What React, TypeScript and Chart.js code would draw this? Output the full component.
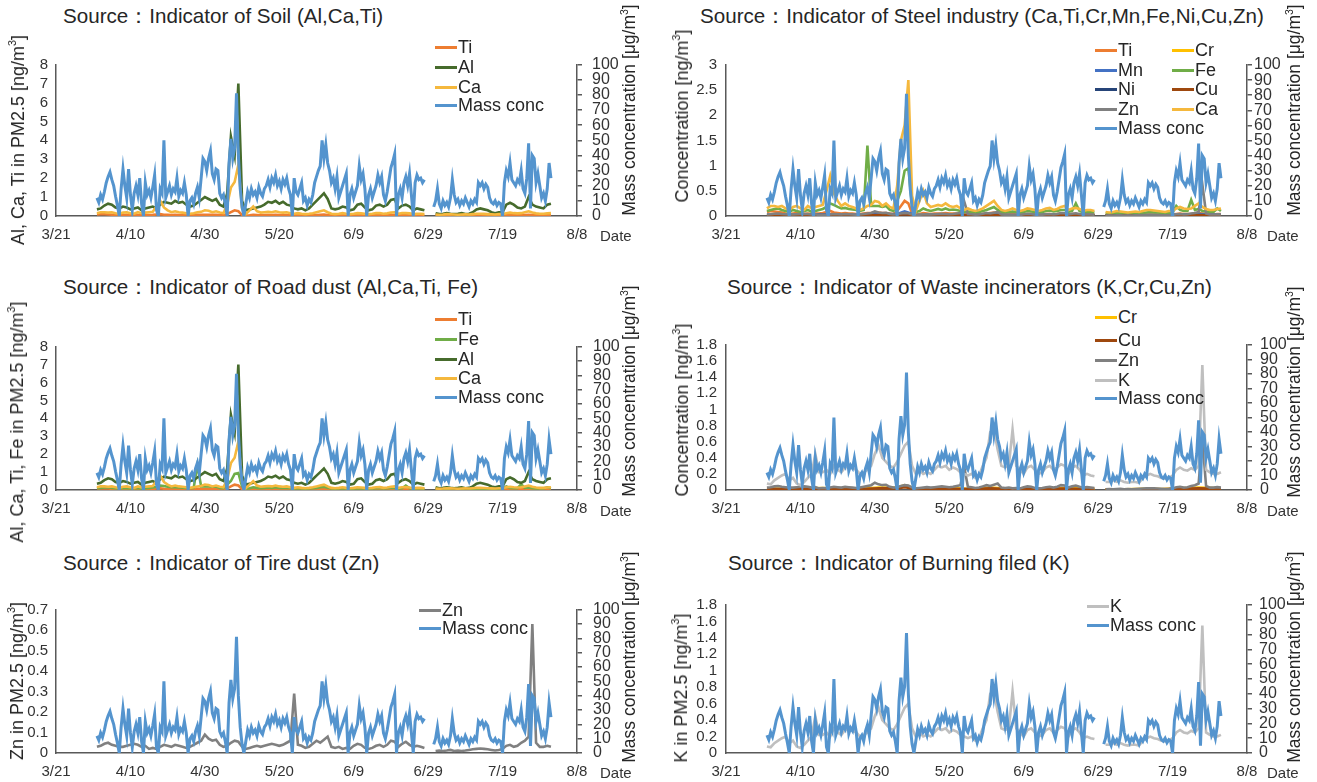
import React, { useEffect, useRef } from "react";
import { Chart, registerables } from "chart.js";
Chart.register(...registerables);

// ---------- data ----------
const xTickDays = [80, 100, 120, 140, 160, 180, 200, 220];
const xTickLabels = ["3/21", "4/10", "4/30", "5/20", "6/9", "6/29", "7/19", "8/8"];

// PM2.5 mass concentration [µg/m3], every 12 h from 4/1 (day 91)
const massStartDay = 91;
const massStepDays = 0.5;
const massConc: (number | null)[] = [
  12, 9, 14, 11, 16, 22, 26, 29, 24, 20,
  13, 7, 0, 18, 31, 20, 12, 31, 14, 4,
  15, 20, 14, 25, 8, 0, 22, 14, 17, 12,
  19, 27, 4, 0, 18, 15, 50, 12, 16, 20,
  14, 18, 16, 25, 13, 17, 15, 22, 14, 0,
  10, 12, 8, 15, 19, 12, 25, 38, 36, 30,
  38, 43, 28, 24, 31, 30, 15, 12, 14, 8,
  0, 35, 51, 38, 45, 81, 40, 18, 6, 0,
  8, 16, 12, 18, 14, 16, 12, 19, 15, 13,
  18, 20, 24, 19, 25, 22, 27, 20, 23, 18,
  24, 21, 25, 18, 14, 0, 25, 16, 14, 18,
  22, 10, 12, 7, 11, 9, 14, 22, 26, 30,
  33, 50, 38, 47, 35, 30, 22, 25, 18, 26,
  12, 16, 20, 24, 28, 0, 14, 18, 12, 16,
  20, 33, 24, 28, 18, 0, 14, 18, 12, 16,
  20, 27, 22, 26, 14, 10, 16, 24, 32, 36,
  41, 0, 14, 18, 12, 22, 26, 20, 28, 14,
  0, 22, 27, 24, 25, 22, 24, null, null, null,
  null, 6, 10, 18, 8, 5, 10, 7, 9, 6,
  12, 24, 14, 9, 11, 7, 10, 8, 12, 9,
  6, 10, 8, 11, 9, 22, 20, 22, 18, 21,
  19, 12, 9, 8, 10, 7, 9, 8, 0, 22,
  30, 26, 35, 24, 22, 20, 24, 22, 30, 18,
  15, 25, 48, 5, 40, 38, 22, 28, 20, 12,
  15, 10, 18, 35, 25,
];

// daily element concentrations [ng/m3] from 4/1 (day 91) to 8/1 (day 213)
const elemStartDay = 91;
const Al: (number | null)[] = [
  0.35, 0.4, 0.55, 0.65, 0.6, 0.45, 0.4, 0.5, 0.45, 0.35,
  0.4, 0.45, 0.3, 0.4, 0.45, 0.5, 0.4, 0.6, 0.75, 0.7,
  0.65, 0.8, 0.7, 0.75, 0.6, 0.5, 0.55, 0.7, 0.85, 1.0,
  0.9, 0.8, 0.9, 0.6, 0.5, 1.2, 4.2, 3.2, 7.0, 0.8,
  0.3, 0.35, 0.4, 0.45, 0.5, 0.6, 0.75, 0.7, 0.8, 0.65,
  0.75, 0.6, 0.55, 0.4, 0.35, 0.4, 0.3, 0.4, 0.6, 0.8,
  1.0, 1.2, 0.9, 0.4, 0.35, 0.4, 0.5, 0.45, 0.3, 0.35,
  0.6, 0.65, 0.45, 0.3, 0.35, 0.55, 0.6, 0.5, 0.6, 0.85,
  0.9, 0.4, 0.55, 0.6, 0.5, 0.3, 0.4, 0.35, 0.3, null,
  null, 0.15, 0.1, 0.12, 0.15, 0.12, 0.1, 0.12, 0.15, 0.1,
  0.12, 0.2, 0.35, 0.4, 0.35, 0.3, 0.2, 0.15, 0.2, 0.2,
  0.6, 0.7, 0.6, 0.45, 0.4, 0.5, 1.0, 0.6, 0.5, 0.45,
  0.4, 0.6, 0.65,
];
const Ca: (number | null)[] = [
  0.15, 0.2, 0.2, 0.18, 0.2, 0.15, 0.12, 0.18, 0.2, 0.15,
  0.12, 0.2, 0.15, 0.18, 0.2, 0.22, 0.5, 0.8, 0.45, 0.3,
  0.2, 0.25, 0.2, 0.18, 0.15, 0.12, 0.15, 0.2, 0.22, 0.3,
  0.28, 0.2, 0.25, 0.18, 0.15, 0.6, 1.5, 1.8, 2.7, 0.4,
  0.1, 0.3, 0.5, 0.25, 0.18, 0.2, 0.22, 0.2, 0.25, 0.2,
  0.18, 0.2, 0.15, 0.12, 0.15, 0.12, 0.1, 0.12, 0.15, 0.2,
  0.25, 0.3, 0.2, 0.12, 0.1, 0.12, 0.15, 0.12, 0.1, 0.12,
  0.15, 0.14, 0.12, 0.1, 0.12, 0.15, 0.16, 0.12, 0.14, 0.18,
  0.2, 0.12, 0.15, 0.16, 0.14, 0.1, 0.12, 0.12, 0.1, null,
  null, 0.08, 0.07, 0.08, 0.1, 0.09, 0.08, 0.07, 0.08, 0.09,
  0.08, 0.1, 0.12, 0.12, 0.11, 0.1, 0.09, 0.08, 0.1, 0.1,
  0.15, 0.18, 0.15, 0.14, 0.15, 0.2, 0.25, 0.18, 0.14, 0.12,
  0.12, 0.14, 0.15,
];
const Ti: (number | null)[] = [
  0.08, 0.1, 0.09, 0.08, 0.07, 0.05, 0.04, 0.05, 0.06, 0.05,
  0.04, 0.05, 0.04, 0.05, 0.05, 0.06, 0.08, 0.1, 0.07, 0.06,
  0.05, 0.06, 0.05, 0.05, 0.04, 0.04, 0.05, 0.06, 0.06, 0.07,
  0.07, 0.06, 0.06, 0.05, 0.04, 0.1, 0.2, 0.3, 0.25, 0.05,
  0.03, 0.04, 0.06, 0.05, 0.04, 0.05, 0.05, 0.05, 0.06, 0.05,
  0.05, 0.05, 0.04, 0.04, 0.04, 0.03, 0.03, 0.04, 0.04, 0.05,
  0.06, 0.07, 0.05, 0.03, 0.03, 0.03, 0.04, 0.03, 0.03, 0.03,
  0.04, 0.04, 0.03, 0.03, 0.03, 0.04, 0.04, 0.03, 0.04, 0.05,
  0.05, 0.03, 0.04, 0.04, 0.03, 0.03, 0.03, 0.03, 0.03, null,
  null, 0.02, 0.02, 0.02, 0.02, 0.02, 0.02, 0.02, 0.02, 0.02,
  0.02, 0.03, 0.03, 0.03, 0.03, 0.03, 0.02, 0.02, 0.02, 0.03,
  0.04, 0.05, 0.04, 0.04, 0.04, 0.05, 0.06, 0.05, 0.04, 0.04,
  0.03, 0.04, 0.04,
];
const Fe: (number | null)[] = [
  0.1, 0.12, 0.14, 0.15, 0.12, 0.1, 0.08, 0.12, 0.1, 0.08,
  0.1, 0.12, 0.08, 0.1, 0.12, 0.14, 0.18, 0.25, 0.22, 0.18,
  0.15, 0.16, 0.14, 0.13, 0.12, 0.1, 0.12, 1.4, 0.2, 0.2,
  0.2, 0.18, 0.2, 0.12, 0.1, 0.3, 0.5, 0.9, 0.95, 0.2,
  0.08, 0.1, 0.15, 0.12, 0.1, 0.12, 0.14, 0.12, 0.15, 0.12,
  0.13, 0.12, 0.1, 0.08, 0.09, 0.08, 0.07, 0.08, 0.1, 0.12,
  0.15, 0.18, 0.12, 0.08, 0.07, 0.08, 0.09, 0.08, 0.07, 0.08,
  0.1, 0.09, 0.08, 0.07, 0.08, 0.1, 0.11, 0.09, 0.1, 0.12,
  0.12, 0.08, 0.1, 0.25, 0.1, 0.07, 0.08, 0.08, 0.07, null,
  null, 0.05, 0.05, 0.06, 0.06, 0.05, 0.05, 0.05, 0.06, 0.05,
  0.05, 0.06, 0.07, 0.08, 0.07, 0.07, 0.06, 0.06, 0.06, 0.07,
  0.2, 0.12, 0.1, 0.1, 0.32, 0.12, 0.14, 0.1, 0.09, 0.08,
  0.08, 0.15, 0.1,
];
const Zn: (number | null)[] = [
  0.03, 0.035, 0.045, 0.05, 0.04, 0.035, 0.03, 0.03, 0.035, 0.04,
  0.045, 0.04, 0.03, 0.035, 0.02, 0.025, 0.02, 0.03, 0.04, 0.035,
  0.03, 0.04, 0.035, 0.03, 0.025, 0.03, 0.04, 0.05, 0.06, 0.09,
  0.07, 0.06, 0.065, 0.04, 0.03, 0.035, 0.05, 0.06, 0.055, 0.03,
  0.02, 0.025, 0.03, 0.035, 0.03, 0.035, 0.04, 0.045, 0.04, 0.035,
  0.04, 0.05, 0.06, 0.29, 0.04, 0.035, 0.025, 0.03, 0.045, 0.06,
  0.05, 0.065, 0.08, 0.03, 0.025, 0.03, 0.02, 0.025, 0.02, 0.035,
  0.045, 0.04, 0.025, 0.02, 0.025, 0.035, 0.04, 0.03, 0.04, 0.06,
  0.055, 0.03, 0.045, 0.055, 0.04, 0.03, 0.035, 0.03, 0.025, null,
  null, 0.01, 0.012, 0.01, 0.012, 0.015, 0.01, 0.012, 0.01, 0.012,
  0.015, 0.018, 0.02, 0.022, 0.02, 0.018, 0.015, 0.012, 0.015, 0.02,
  0.035, 0.04, 0.03, 0.035, 0.05, 0.06, 0.08, 0.63, 0.05, 0.03,
  0.03, 0.035, 0.03,
];
const K: (number | null)[] = [
  0.08, 0.07, 0.12, 0.15, 0.18, 0.2, 0.12, 0.15, 0.08, 0.06,
  0.1, 0.15, 0.2, 0.45, 0.22, 0.22, 0.25, 0.2, 0.3, 0.25,
  0.22, 0.28, 0.3, 0.27, 0.25, 0.2, 0.22, 0.25, 0.3, 0.45,
  0.55, 0.4, 0.35, 0.3, 0.28, 0.35, 0.45, 0.55, 0.6, 0.3,
  0.2, 0.25, 0.2, 0.22, 0.2, 0.25, 0.3, 0.28, 0.3, 0.25,
  0.28, 0.26, 0.22, 0.2, 0.18, 0.2, 0.15, 0.18, 0.3, 0.4,
  0.72, 0.75, 0.5, 0.3, 0.28, 0.3, 0.75, 0.3, 0.25, 0.2,
  0.28, 0.3, 0.25, 0.2, 0.22, 0.28, 0.3, 0.25, 0.28, 0.32,
  0.3, 0.2, 0.28, 0.3, 0.25, 0.18, 0.2, 0.18, 0.17, null,
  null, 0.1, 0.1, 0.12, 0.1, 0.12, 0.1, 0.09, 0.1, 0.1,
  0.09, 0.15, 0.18, 0.2, 0.18, 0.17, 0.15, 0.14, 0.15, 0.18,
  0.25, 0.28, 0.25, 0.24, 0.27, 0.25, 0.3, 1.55, 0.25, 0.22,
  0.2, 0.2, 0.22,
];

// trace metals, sparse sampling days
const traceDays = [91, 96, 101, 106, 111, 116, 121, 126, 128, 131, 136, 141, 146, 151, 156, 161, 166, 171, 176, 179, 180, 182, 187, 192, 197, 202, 207, 213];
const Cr: (number | null)[] = [0.02, 0.015, 0.02, 0.025, 0.02, 0.015, 0.03, 0.03, 0.06, 0.02, 0.02, 0.02, 0.015, 0.03, 0.015, 0.02, 0.02, 0.025, 0.02, 0.015, null, 0.01, 0.01, 0.015, 0.012, 0.02, 0.03, 0.02];
const Mn: (number | null)[] = [0.03, 0.025, 0.03, 0.035, 0.03, 0.025, 0.04, 0.04, 0.09, 0.02, 0.03, 0.03, 0.02, 0.04, 0.02, 0.025, 0.03, 0.035, 0.025, 0.02, null, 0.015, 0.015, 0.02, 0.018, 0.03, 0.04, 0.03];
const Ni: (number | null)[] = [0.005, 0.004, 0.005, 0.006, 0.005, 0.004, 0.006, 0.006, 0.01, 0.004, 0.005, 0.005, 0.004, 0.006, 0.004, 0.004, 0.005, 0.005, 0.004, 0.004, null, 0.003, 0.003, 0.004, 0.003, 0.005, 0.006, 0.005];
const Cu: (number | null)[] = [0.015, 0.012, 0.015, 0.018, 0.015, 0.012, 0.02, 0.02, 0.035, 0.012, 0.015, 0.015, 0.012, 0.02, 0.012, 0.012, 0.015, 0.018, 0.012, 0.012, null, 0.008, 0.008, 0.01, 0.009, 0.015, 0.02, 0.015];

// ---------- styling ----------
const FONT = "'Liberation Sans', Arial, Helvetica, sans-serif";
const AXIS = "#595959";
const TXT = "#333333";
const C = {
  mass: "#5494CE",
  Ti: "#ED7D31",
  Al: "#466B2C",
  Ca: "#F5B83D",
  Fe: "#70AD47",
  Cr: "#FFC000",
  Mn: "#4472C4",
  Ni: "#264478",
  Cu: "#9E480E",
  Zn: "#808080",
  K: "#BFBFBF",
};

const massDays = massConc.map((_, i) => massStartDay + i * massStepDays);
const elemDays = Al.map((_, i) => elemStartDay + i);

type Series = { label: string; color: string; days: number[]; values: (number | null)[]; axis: "yL" | "yR" };
const S = {
  mass: { label: "Mass conc", color: C.mass, days: massDays, values: massConc, axis: "yR" } as Series,
  Ti: { label: "Ti", color: C.Ti, days: elemDays, values: Ti, axis: "yL" } as Series,
  Al: { label: "Al", color: C.Al, days: elemDays, values: Al, axis: "yL" } as Series,
  Ca: { label: "Ca", color: C.Ca, days: elemDays, values: Ca, axis: "yL" } as Series,
  Fe: { label: "Fe", color: C.Fe, days: elemDays, values: Fe, axis: "yL" } as Series,
  Zn: { label: "Zn", color: C.Zn, days: elemDays, values: Zn, axis: "yL" } as Series,
  K: { label: "K", color: C.K, days: elemDays, values: K, axis: "yL" } as Series,
  Cr: { label: "Cr", color: C.Cr, days: traceDays, values: Cr, axis: "yL" } as Series,
  Mn: { label: "Mn", color: C.Mn, days: traceDays, values: Mn, axis: "yL" } as Series,
  Ni: { label: "Ni", color: C.Ni, days: traceDays, values: Ni, axis: "yL" } as Series,
  Cu: { label: "Cu", color: C.Cu, days: traceDays, values: Cu, axis: "yL" } as Series,
};

type PanelCfg = {
  title: string; titleX: number; titleY: number;
  l: number; t: number; r: number; b: number;
  leftMax: number; leftStep: number; leftPad: number; rightPad: number;
  leftTitle: string; leftTitleX: number; leftTitleY: number;
  rightTitleX: number; rightTitleY: number;
  dateX: number; dateY: number;
  series: Series[];
  legend: [Series, number, number][];
};

const panels: PanelCfg[] = [
  {
    title: "Source：Indicator of Soil (Al,Ca,Ti)", titleX: 63, titleY: 16,
    l: 56, t: 59, r: 577, b: 216, leftMax: 8, leftStep: 1, leftPad: 8, rightPad: 10,
    leftTitle: "Al, Ca, Ti in PM2.5 [ng/m", leftTitleX: 18, leftTitleY: 140,
    rightTitleX: 630, rightTitleY: 110, dateX: 600, dateY: 235,
    series: [S.Ti, S.Al, S.Ca, S.mass],
    legend: [[S.Ti, 435, 47], [S.Al, 435, 67], [S.Ca, 435, 87], [S.mass, 435, 105]],
  },
  {
    title: "Source：Indicator of Steel industry (Ca,Ti,Cr,Mn,Fe,Ni,Cu,Zn)", titleX: 700, titleY: 16,
    l: 726, t: 61, r: 1247, b: 216, leftMax: 3, leftStep: 0.5, leftPad: 9, rightPad: 2,
    leftTitle: "Concentration [ng/m", leftTitleX: 682, leftTitleY: 116,
    rightTitleX: 1295, rightTitleY: 110, dateX: 1267, dateY: 235,
    series: [S.Ti, S.Cr, S.Mn, S.Fe, S.Ni, S.Cu, S.Zn, S.Ca, S.mass],
    legend: [[S.Ti, 1095, 50], [S.Cr, 1172, 50], [S.Mn, 1095, 70], [S.Fe, 1172, 70], [S.Ni, 1095, 89], [S.Cu, 1172, 89], [S.Zn, 1095, 109], [S.Ca, 1172, 109], [S.mass, 1095, 128]],
  },
  {
    title: "Source：Indicator of Road dust (Al,Ca,Ti, Fe)", titleX: 63, titleY: 287,
    l: 56, t: 340, r: 577, b: 490, leftMax: 8, leftStep: 1, leftPad: 8, rightPad: 11,
    leftTitle: "Al, Ca, Ti, Fe in PM2.5 [ng/m", leftTitleX: 17, leftTitleY: 422,
    rightTitleX: 630, rightTitleY: 391, dateX: 600, dateY: 510,
    series: [S.Ti, S.Fe, S.Al, S.Ca, S.mass],
    legend: [[S.Ti, 435, 319], [S.Fe, 435, 339], [S.Al, 435, 359], [S.Ca, 435, 378], [S.mass, 435, 397]],
  },
  {
    title: "Source：Indicator of Waste incinerators (K,Cr,Cu,Zn)", titleX: 727, titleY: 287,
    l: 726, t: 341, r: 1247, b: 490, leftMax: 1.8, leftStep: 0.2, leftPad: 9, rightPad: 8,
    leftTitle: "Concentration [ng/m", leftTitleX: 682, leftTitleY: 410,
    rightTitleX: 1295, rightTitleY: 392, dateX: 1267, dateY: 510,
    series: [S.Cr, S.Cu, S.Zn, S.K, S.mass],
    legend: [[S.Cr, 1095, 317], [S.Cu, 1095, 340], [S.Zn, 1095, 360], [S.K, 1095, 380], [S.mass, 1095, 398]],
  },
  {
    title: "Source：Indicator of Tire dust (Zn)", titleX: 63, titleY: 563,
    l: 56, t: 603, r: 577, b: 753, leftMax: 0.7, leftStep: 0.1, leftPad: 8, rightPad: 11,
    leftTitle: "Zn in PM2.5 [ng/m", leftTitleX: 17, leftTitleY: 681,
    rightTitleX: 630, rightTitleY: 657, dateX: 600, dateY: 772,
    series: [S.Zn, S.mass],
    legend: [[S.Zn, 419, 610], [S.mass, 419, 628]],
  },
  {
    title: "Source：Indicator of Burning filed (K)", titleX: 728, titleY: 563,
    l: 726, t: 601, r: 1247, b: 753, leftMax: 1.8, leftStep: 0.2, leftPad: 9, rightPad: 7,
    leftTitle: "K in PM2.5 [ng/m", leftTitleX: 681, leftTitleY: 688,
    rightTitleX: 1295, rightTitleY: 657, dateX: 1267, dateY: 772,
    series: [S.K, S.mass],
    legend: [[S.K, 1087, 606], [S.mass, 1087, 625]],
  },
];

const SIDE = 50;
const PADT = 14;
const XH = 34;

const fmt = (v: number) => String(parseFloat(Number(v).toFixed(2)));

function Panel({ p }: { p: PanelCfg }) {
  const ref = useRef<HTMLCanvasElement | null>(null);
  const w = p.r - p.l + 2 * SIDE;
  const h = p.b - p.t + PADT + XH;
  useEffect(() => {
    if (!ref.current) return;
    const n = p.series.length;
    const chart = new Chart(ref.current, {
      type: "line",
      data: {
        datasets: p.series.map((s, i) => ({
          label: s.label,
          data: s.days.map((d, j) => ({ x: d, y: s.values[j] })),
          borderColor: s.color,
          backgroundColor: s.color,
          borderWidth: s.axis === "yR" ? 3 : 2.6,
          pointRadius: 0,
          yAxisID: s.axis,
          order: n - i,
          spanGaps: false,
          tension: 0,
        })),
      } as any,
      options: {
        responsive: false,
        animation: false,
        devicePixelRatio: 1,
        layout: { padding: { top: PADT, left: 0, right: 0, bottom: 0 } },
        plugins: { legend: { display: false }, tooltip: { enabled: false }, title: { display: false } },
        scales: {
          x: {
            type: "linear", min: 80, max: 220,
            afterFit: (s: any) => { s.height = XH; },
            ticks: {
              stepSize: 20, autoSkip: false, maxRotation: 0, padding: 10, color: TXT,
              font: { family: FONT, size: 15 },
              callback: (v: any) => { const k = xTickDays.indexOf(Number(v)); return k >= 0 ? xTickLabels[k] : ""; },
            },
            grid: { display: false, drawTicks: false },
            border: { display: true, color: AXIS, width: 1.5 },
          },
          yL: {
            type: "linear", position: "left", min: 0, max: p.leftMax,
            afterFit: (s: any) => { s.width = SIDE; },
            ticks: { stepSize: p.leftStep, autoSkip: false, padding: p.leftPad, color: TXT, font: { family: FONT, size: 15 }, callback: (v: any) => fmt(v) },
            grid: { display: false, drawTicks: false },
            border: { display: true, color: AXIS, width: 1.5 },
          },
          yR: {
            type: "linear", position: "right", min: 0, max: 100,
            afterFit: (s: any) => { s.width = SIDE; },
            ticks: { stepSize: 10, autoSkip: false, padding: p.rightPad, color: TXT, font: { family: FONT, size: 16 } },
            grid: { display: true, drawOnChartArea: false, drawTicks: true, tickLength: 5, color: AXIS, lineWidth: 1.5 },
            border: { display: true, color: AXIS, width: 1.5 },
          },
        },
      } as any,
    });
    return () => chart.destroy();
  }, []);

  const text: React.CSSProperties = { position: "absolute", fontFamily: FONT, color: "#262626", whiteSpace: "nowrap", lineHeight: 1 };
  const sup = <sup style={{ fontSize: "0.6em", verticalAlign: "0.7em", lineHeight: 0 }}>3</sup>;
  return (
    <>
      <canvas ref={ref} width={w} height={h} style={{ position: "absolute", left: p.l - SIDE, top: p.t - PADT, width: w, height: h }} />
      <div style={{ ...text, left: p.titleX, top: p.titleY, transform: "translateY(-50%)", fontSize: 20.6 }}>{p.title}</div>
      <div style={{ ...text, left: p.leftTitleX, top: p.leftTitleY, transform: "translate(-50%,-50%) rotate(-90deg)", fontSize: 18 }}>{p.leftTitle}{sup}]</div>
      <div style={{ ...text, left: p.rightTitleX, top: p.rightTitleY, transform: "translate(-50%,-50%) rotate(-90deg)", fontSize: 17.5 }}>Mass concentration [μg/m{sup}]</div>
      <div style={{ ...text, left: p.dateX, top: p.dateY, transform: "translateY(-50%)", fontSize: 15, color: TXT }}>Date</div>
      {p.legend.map(([s, x, y], i) => (
        <div key={i} style={{ ...text, left: x, top: y, transform: "translateY(-50%)", display: "flex", alignItems: "center", fontSize: 18 }}>
          <span style={{ display: "inline-block", width: 22, height: 3, background: s.color, marginRight: 1 }} />
          <span>{s.label}</span>
        </div>
      ))}
    </>
  );
}

export default function App() {
  return (
    <div style={{ position: "absolute", left: 0, top: 0, width: 1317, height: 782, overflow: "hidden", background: "#fff" }}>
      {panels.map((p, i) => <Panel key={i} p={p} />)}
    </div>
  );
}
